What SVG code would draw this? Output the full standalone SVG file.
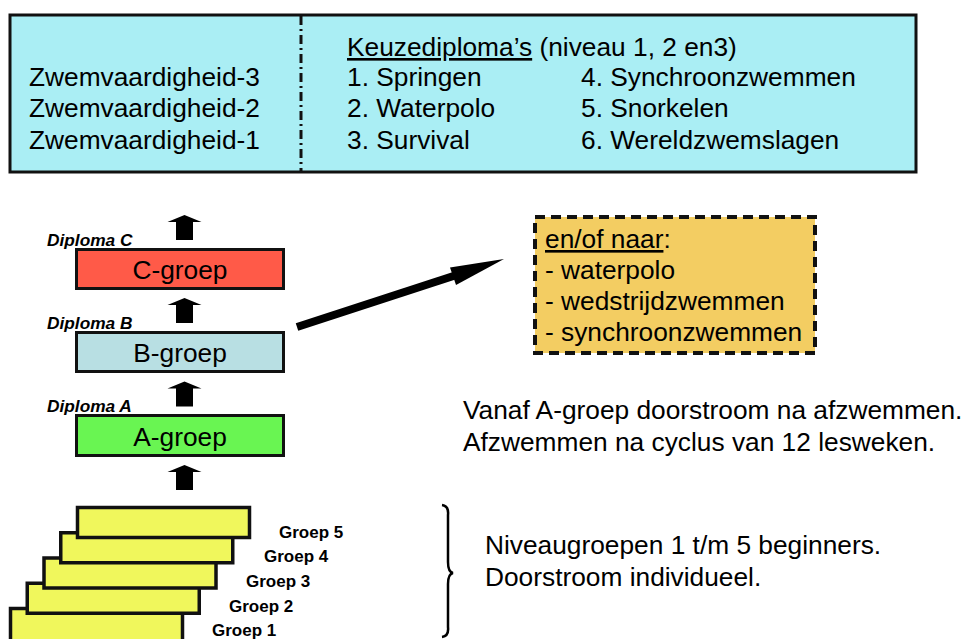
<svg xmlns="http://www.w3.org/2000/svg" width="965" height="639" viewBox="0 0 965 639">
<style>
text{font-family:"Liberation Sans",Arial,Helvetica,sans-serif;fill:#000}
.t{font-size:26.3px}
.lbl{font-size:17.3px;font-weight:bold;font-style:italic}
.grp{font-size:17px;font-weight:bold}
.box{stroke:#111;stroke-width:3}
.ybox{fill:#F0F75C;stroke:#111;stroke-width:3.5}
.blk{fill:#000}
</style>
<defs>
<path id="uparrow" d="M-17,7 L0,0 L17,7 L8.5,7 L8.5,25 L-8.5,25 L-8.5,7 Z"/>
</defs>
<g id="topbox">
<rect x="10" y="15" width="906" height="157" fill="#AAEEF4" stroke="#111" stroke-width="3"/>
<line x1="301" y1="16" x2="301" y2="172" stroke="#111" stroke-width="3" stroke-dasharray="9 4 2 4"/>
<text class="t" x="29" y="86">Zwemvaardigheid-3</text>
<text class="t" x="29" y="117">Zwemvaardigheid-2</text>
<text class="t" x="29" y="149">Zwemvaardigheid-1</text>
<text class="t" x="347" y="56"><tspan text-decoration="underline">Keuzediploma’s</tspan> (niveau 1, 2 en3)</text>
<text class="t" x="347" y="86">1. Springen</text>
<text class="t" x="347" y="117">2. Waterpolo</text>
<text class="t" x="347" y="149">3. Survival</text>
<text class="t" x="581" y="86">4. Synchroonzwemmen</text>
<text class="t" x="581" y="117">5. Snorkelen</text>
<text class="t" x="581" y="149">6. Wereldzwemslagen</text>
</g>
<g id="c-groep">
<rect class="box" x="76.5" y="249.5" width="207" height="39" fill="#FF5A48"/>
<text class="t" x="180" y="279" text-anchor="middle">C-groep</text>
<text class="lbl" x="47" y="246">Diploma C</text>
</g>
<g id="b-groep">
<rect class="box" x="76.5" y="332.5" width="207" height="39" fill="#B8DFE3"/>
<text class="t" x="180" y="362" text-anchor="middle">B-groep</text>
<text class="lbl" x="47" y="329">Diploma B</text>
</g>
<g id="a-groep">
<rect class="box" x="76.5" y="415.5" width="207" height="40" fill="#69F552"/>
<text class="t" x="180" y="446" text-anchor="middle">A-groep</text>
<text class="lbl" x="47" y="412">Diploma A</text>
</g>
<g id="groep1">
<rect class="ybox" x="10.5" y="608.5" width="172" height="40"/>
<text class="grp" x="212" y="636">Groep 1</text>
</g>
<g id="groep2">
<rect class="ybox" x="27.25" y="583.25" width="172" height="30"/>
<text class="grp" x="229" y="612">Groep 2</text>
</g>
<g id="groep3">
<rect class="ybox" x="44" y="558" width="172" height="30"/>
<text class="grp" x="246" y="587">Groep 3</text>
</g>
<g id="groep4">
<rect class="ybox" x="60.75" y="532.75" width="172" height="30"/>
<text class="grp" x="264" y="562">Groep 4</text>
</g>
<g id="groep5">
<rect class="ybox" x="77.5" y="507.5" width="172" height="30"/>
<text class="grp" x="279" y="538">Groep 5</text>
</g>
<g id="naar">
<rect x="535" y="217" width="280" height="136" fill="#F3CD62" stroke="#111" stroke-width="4" stroke-dasharray="10 6"/>
<text class="t" x="545" y="248"><tspan text-decoration="underline">en/of naar</tspan>:</text>
<text class="t" x="545" y="279">- waterpolo</text>
<text class="t" x="545" y="310">- wedstrijdzwemmen</text>
<text class="t" x="545" y="341">- synchroonzwemmen</text>
</g>
<g id="notes">
<text class="t" x="463" y="419">Vanaf A-groep doorstroom na afzwemmen.</text>
<text class="t" x="463" y="451">Afzwemmen na cyclus van 12 lesweken.</text>
<text class="t" x="485" y="554">Niveaugroepen 1 t/m 5 beginners.</text>
<text class="t" x="485" y="586">Doorstroom individueel.</text>
</g>
<g id="connectors">
<use href="#uparrow" class="blk" x="184.5" y="215"/>
<use href="#uparrow" class="blk" x="184.5" y="298"/>
<use href="#uparrow" class="blk" x="184.5" y="381.5"/>
<use href="#uparrow" class="blk" x="184.5" y="465"/>
<line x1="297" y1="327" x2="455" y2="275.5" stroke="#000" stroke-width="8"/>
<polygon points="504,259 450,267.5 456,285" fill="#000"/>
<path d="M442,505 Q449,506 448,515 L448,562 Q448,572 453,573 Q448,574 448,584 L448,627 Q449,636 442,637" fill="none" stroke="#000" stroke-width="2.5"/>
</g>
</svg>
